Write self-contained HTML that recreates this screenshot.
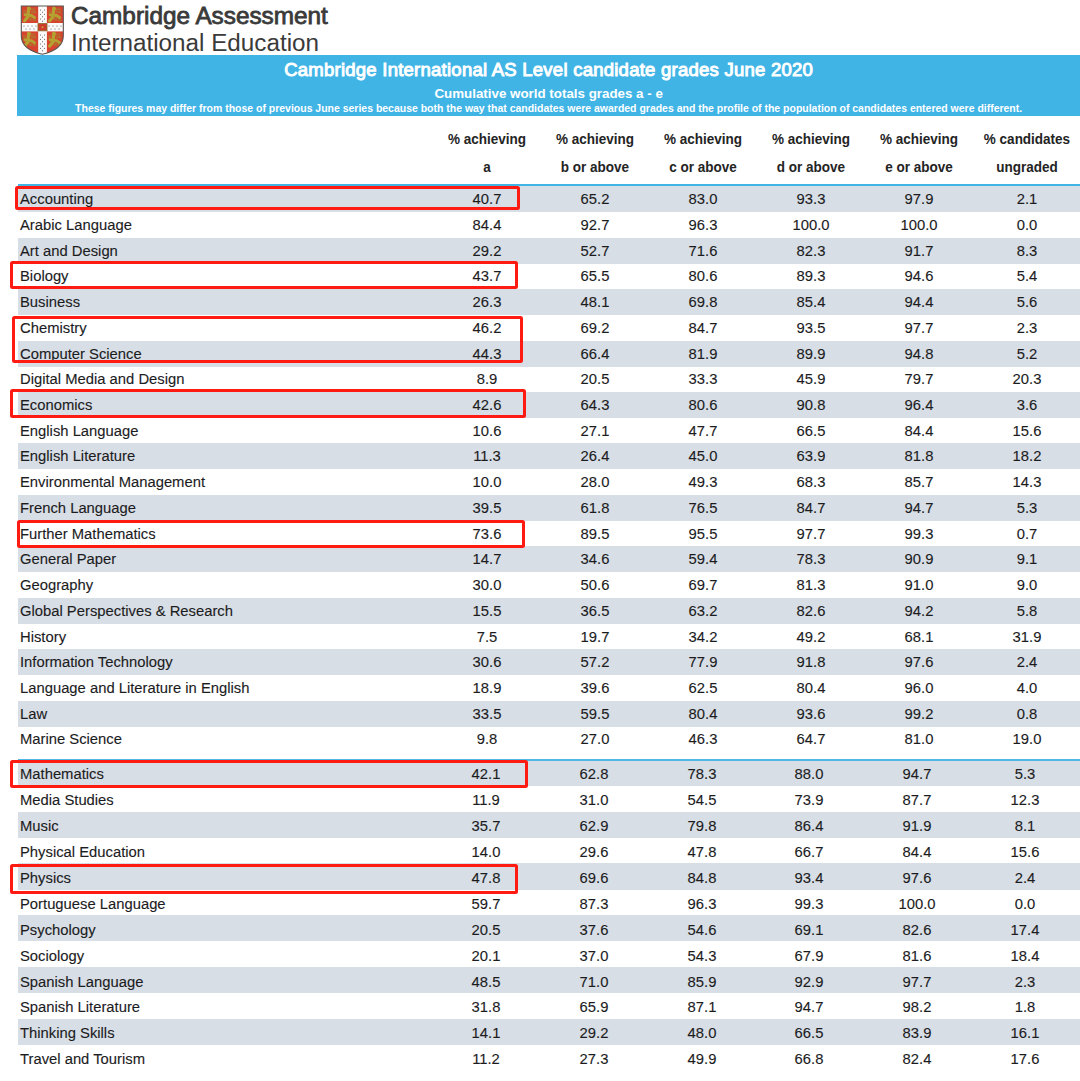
<!DOCTYPE html>
<html><head><meta charset="utf-8"><style>
html,body{margin:0;padding:0;background:#fff;}
body{width:1080px;height:1081px;position:relative;overflow:hidden;font-family:"Liberation Sans",sans-serif;}
.abs{position:absolute;}
.logo1{position:absolute;left:71px;top:4.5px;font-size:23.5px;-webkit-text-stroke:0.8px #3a3a3a;color:#3a3a3a;white-space:nowrap;line-height:1;transform-origin:0 0;transform:scaleX(1.035);}
.logo2{position:absolute;left:71px;top:31.5px;font-size:23px;color:#3a3a3a;white-space:nowrap;line-height:1;transform-origin:0 0;transform:scaleX(1.054);}
.bar{position:absolute;left:17.3px;top:54.5px;width:1062.7px;height:61.2px;background:#41b4e6;}
.t{position:absolute;left:17.3px;width:1062.7px;text-align:center;color:#fff;font-weight:bold;white-space:nowrap;line-height:1;}
.h{position:absolute;width:120px;text-align:center;font-weight:bold;font-size:14.6px;transform:scaleX(0.925);line-height:1;color:#242424;white-space:nowrap;}
.r{position:absolute;left:18px;width:1062px;}
.r span{position:absolute;top:5.1px;font-size:15.2px;line-height:1;color:#1c1c1e;white-space:nowrap;-webkit-text-stroke:0.12px #1c1c1e;}
.r .nm{left:2.0px;transform-origin:0 0;transform:scaleX(0.974);}
.r .n{width:100px;text-align:center;margin-left:-18px;transform:scaleX(0.974);}
.r div span{top:5.1px;}
.line{position:absolute;background:#41b4e6;}
.box{position:absolute;border:3px solid #ff1a12;border-radius:2.5px;box-sizing:border-box;}
</style></head><body>
<svg class="abs" style="left:0;top:0" width="80" height="60" viewBox="0 0 80 60"><defs><clipPath id="sc"><path d="M21.3 6 H63.3 V36 C63.3 46 54 51.5 42.3 54.3 C30.6 51.5 21.3 46 21.3 36 Z"/></clipPath></defs>
<path d="M21.3 6 H63.3 V36 C63.3 46 54 51.5 42.3 54.3 C30.6 51.5 21.3 46 21.3 36 Z" fill="#d8432f"/>
<g clip-path="url(#sc)">
<rect x="38.2" y="0" width="8.7" height="60" fill="#fafafa"/>
<rect x="0" y="23" width="80" height="8.4" fill="#fafafa"/>
<path d="M40.5 9 l0.6 1.6 l-1.2 0 z" fill="#555"/><path d="M40.5 13.5 l0.6 1.6 l-1.2 0 z" fill="#555"/><path d="M40.5 18 l0.6 1.6 l-1.2 0 z" fill="#555"/><path d="M40.5 34 l0.6 1.6 l-1.2 0 z" fill="#555"/><path d="M40.5 38.5 l0.6 1.6 l-1.2 0 z" fill="#555"/><path d="M40.5 43 l0.6 1.6 l-1.2 0 z" fill="#555"/><path d="M40.5 47.5 l0.6 1.6 l-1.2 0 z" fill="#555"/><path d="M44.5 9 l0.6 1.6 l-1.2 0 z" fill="#555"/><path d="M44.5 13.5 l0.6 1.6 l-1.2 0 z" fill="#555"/><path d="M44.5 18 l0.6 1.6 l-1.2 0 z" fill="#555"/><path d="M44.5 34 l0.6 1.6 l-1.2 0 z" fill="#555"/><path d="M44.5 38.5 l0.6 1.6 l-1.2 0 z" fill="#555"/><path d="M44.5 43 l0.6 1.6 l-1.2 0 z" fill="#555"/><path d="M44.5 47.5 l0.6 1.6 l-1.2 0 z" fill="#555"/><path d="M42.5 11.2 l0.6 1.6 l-1.2 0 z" fill="#555"/><path d="M42.5 15.7 l0.6 1.6 l-1.2 0 z" fill="#555"/><path d="M42.5 20.2 l0.6 1.6 l-1.2 0 z" fill="#555"/><path d="M42.5 36.2 l0.6 1.6 l-1.2 0 z" fill="#555"/><path d="M42.5 40.7 l0.6 1.6 l-1.2 0 z" fill="#555"/><path d="M42.5 45.2 l0.6 1.6 l-1.2 0 z" fill="#555"/><path d="M42.5 49.7 l0.6 1.6 l-1.2 0 z" fill="#555"/><path d="M24 25 l0.6 1.6 l-1.2 0 z" fill="#555"/><path d="M28 25 l0.6 1.6 l-1.2 0 z" fill="#555"/><path d="M32 25 l0.6 1.6 l-1.2 0 z" fill="#555"/><path d="M36 25 l0.6 1.6 l-1.2 0 z" fill="#555"/><path d="M49 25 l0.6 1.6 l-1.2 0 z" fill="#555"/><path d="M53 25 l0.6 1.6 l-1.2 0 z" fill="#555"/><path d="M57 25 l0.6 1.6 l-1.2 0 z" fill="#555"/><path d="M61 25 l0.6 1.6 l-1.2 0 z" fill="#555"/><path d="M26 28 l0.6 1.6 l-1.2 0 z" fill="#555"/><path d="M30 28 l0.6 1.6 l-1.2 0 z" fill="#555"/><path d="M34 28 l0.6 1.6 l-1.2 0 z" fill="#555"/><path d="M51 28 l0.6 1.6 l-1.2 0 z" fill="#555"/><path d="M55 28 l0.6 1.6 l-1.2 0 z" fill="#555"/><path d="M59 28 l0.6 1.6 l-1.2 0 z" fill="#555"/>
<rect x="38" y="23.6" width="9" height="7.2" fill="#cf3b2a" stroke="#8e6b2c" stroke-width="0.9"/>
<circle cx="42.5" cy="27.2" r="1" fill="#c9a640"/>
<g transform="translate(21.8,6.2)"><g fill="#b8692e" opacity="1"><rect x="8.5" y="2" width="5" height="2.2"/><rect x="8.8" y="4.6" width="5.5" height="2.6"/><rect x="7" y="11" width="3.4" height="3.6"/><rect x="11" y="11" width="3.4" height="3.8"/><rect x="1.5" y="3.6" width="2.4" height="4.5"/></g>
<g fill="none" stroke="#b3a132" stroke-linecap="round" stroke-linejoin="round"><path d="M6.9 2 L5.9 10.8 L3 14.3" stroke-width="3.3"/><path d="M3.2 8.6 L9.7 9.3 L12.7 11.3" stroke-width="2.8"/><path d="M4.2 13.5 L2.5 15" stroke-width="2.4"/></g><circle cx="7.2" cy="2.4" r="1.9" fill="#b3a132"/></g>
<g transform="translate(46.9,6.2)"><g fill="#b8692e" opacity="1"><rect x="8.5" y="2" width="5" height="2.2"/><rect x="8.8" y="4.6" width="5.5" height="2.6"/><rect x="7" y="11" width="3.4" height="3.6"/><rect x="11" y="11" width="3.4" height="3.8"/><rect x="1.5" y="3.6" width="2.4" height="4.5"/></g>
<g fill="none" stroke="#b3a132" stroke-linecap="round" stroke-linejoin="round"><path d="M6.9 2 L5.9 10.8 L3 14.3" stroke-width="3.3"/><path d="M3.2 8.6 L9.7 9.3 L12.7 11.3" stroke-width="2.8"/><path d="M4.2 13.5 L2.5 15" stroke-width="2.4"/></g><circle cx="7.2" cy="2.4" r="1.9" fill="#b3a132"/></g>
<g transform="translate(21.8,31.4)"><g fill="#b8692e" opacity="1"><rect x="8.5" y="2" width="5" height="2.2"/><rect x="8.8" y="4.6" width="5.5" height="2.6"/><rect x="7" y="11" width="3.4" height="3.6"/><rect x="11" y="11" width="3.4" height="3.8"/><rect x="1.5" y="3.6" width="2.4" height="4.5"/></g>
<g fill="none" stroke="#b3a132" stroke-linecap="round" stroke-linejoin="round"><path d="M6.9 2 L5.9 10.8 L3 14.3" stroke-width="3.3"/><path d="M3.2 8.6 L9.7 9.3 L12.7 11.3" stroke-width="2.8"/><path d="M4.2 13.5 L2.5 15" stroke-width="2.4"/></g><circle cx="7.2" cy="2.4" r="1.9" fill="#b3a132"/></g>
<g transform="translate(46.9,31.4)"><g fill="#b8692e" opacity="1"><rect x="8.5" y="2" width="5" height="2.2"/><rect x="8.8" y="4.6" width="5.5" height="2.6"/><rect x="7" y="11" width="3.4" height="3.6"/><rect x="11" y="11" width="3.4" height="3.8"/><rect x="1.5" y="3.6" width="2.4" height="4.5"/></g>
<g fill="none" stroke="#b3a132" stroke-linecap="round" stroke-linejoin="round"><path d="M6.9 2 L5.9 10.8 L3 14.3" stroke-width="3.3"/><path d="M3.2 8.6 L9.7 9.3 L12.7 11.3" stroke-width="2.8"/><path d="M4.2 13.5 L2.5 15" stroke-width="2.4"/></g><circle cx="7.2" cy="2.4" r="1.9" fill="#b3a132"/></g>
</g>
<path d="M21.3 6 H63.3 V36 C63.3 46 54 51.5 42.3 54.3 C30.6 51.5 21.3 46 21.3 36 Z" fill="none" stroke="#5a5550" stroke-width="1.1"/></svg>
<div class="logo1">Cambridge Assessment</div>
<div class="logo2">International Education</div>
<div class="bar"></div>
<div class="t" style="top:60.5px;font-size:18.5px;font-weight:normal;-webkit-text-stroke:0.95px #fff;letter-spacing:0.25px;transform-origin:549px 0;transform:scaleX(1.0)">Cambridge International AS Level candidate grades June 2020</div>
<div class="t" style="top:87.2px;font-size:13.35px">Cumulative world totals grades a - e</div>
<div class="t" style="top:104.2px;font-size:10.47px;transform-origin:549px 0;transform:scaleX(1.0)">These figures may differ from those of previous June series because both the way that candidates were awarded grades and the profile of the population of candidates entered were different.</div>
<span class="h" style="left:426.7px;top:131.5px">% achieving</span><span class="h" style="left:426.7px;top:159.8px">a</span><span class="h" style="left:534.7px;top:131.5px">% achieving</span><span class="h" style="left:534.7px;top:159.8px">b or above</span><span class="h" style="left:642.7px;top:131.5px">% achieving</span><span class="h" style="left:642.7px;top:159.8px">c or above</span><span class="h" style="left:750.7px;top:131.5px">% achieving</span><span class="h" style="left:750.7px;top:159.8px">d or above</span><span class="h" style="left:858.7px;top:131.5px">% achieving</span><span class="h" style="left:858.7px;top:159.8px">e or above</span><span class="h" style="left:966.7px;top:131.5px">% candidates</span><span class="h" style="left:966.7px;top:159.8px">ungraded</span>
<div class="line" style="left:18px;top:184.4px;width:1062px;height:2.9px"></div>
<div class="r" style="top:186.20px;height:26.02px;background:#d8dee5"><span class="nm">Accounting</span><span class="n" style="left:436.70px">40.7</span><span class="n" style="left:544.70px">65.2</span><span class="n" style="left:652.70px">83.0</span><span class="n" style="left:760.70px">93.3</span><span class="n" style="left:868.70px">97.9</span><span class="n" style="left:976.70px">2.1</span></div>
<div class="r" style="top:211.92px;height:26.02px;background:transparent"><span class="nm">Arabic Language</span><span class="n" style="left:436.70px">84.4</span><span class="n" style="left:544.70px">92.7</span><span class="n" style="left:652.70px">96.3</span><span class="n" style="left:760.70px">100.0</span><span class="n" style="left:868.70px">100.0</span><span class="n" style="left:976.70px">0.0</span></div>
<div class="r" style="top:237.64px;height:26.02px;background:#d8dee5"><span class="nm">Art and Design</span><span class="n" style="left:436.70px">29.2</span><span class="n" style="left:544.70px">52.7</span><span class="n" style="left:652.70px">71.6</span><span class="n" style="left:760.70px">82.3</span><span class="n" style="left:868.70px">91.7</span><span class="n" style="left:976.70px">8.3</span></div>
<div class="r" style="top:263.36px;height:26.02px;background:transparent"><span class="nm">Biology</span><span class="n" style="left:436.70px">43.7</span><span class="n" style="left:544.70px">65.5</span><span class="n" style="left:652.70px">80.6</span><span class="n" style="left:760.70px">89.3</span><span class="n" style="left:868.70px">94.6</span><span class="n" style="left:976.70px">5.4</span></div>
<div class="r" style="top:289.08px;height:26.02px;background:#d8dee5"><span class="nm">Business</span><span class="n" style="left:436.70px">26.3</span><span class="n" style="left:544.70px">48.1</span><span class="n" style="left:652.70px">69.8</span><span class="n" style="left:760.70px">85.4</span><span class="n" style="left:868.70px">94.4</span><span class="n" style="left:976.70px">5.6</span></div>
<div class="r" style="top:314.80px;height:26.02px;background:transparent"><span class="nm">Chemistry</span><span class="n" style="left:436.70px">46.2</span><span class="n" style="left:544.70px">69.2</span><span class="n" style="left:652.70px">84.7</span><span class="n" style="left:760.70px">93.5</span><span class="n" style="left:868.70px">97.7</span><span class="n" style="left:976.70px">2.3</span></div>
<div class="r" style="top:340.52px;height:26.02px;background:#d8dee5"><span class="nm">Computer Science</span><span class="n" style="left:436.70px">44.3</span><span class="n" style="left:544.70px">66.4</span><span class="n" style="left:652.70px">81.9</span><span class="n" style="left:760.70px">89.9</span><span class="n" style="left:868.70px">94.8</span><span class="n" style="left:976.70px">5.2</span></div>
<div class="r" style="top:366.24px;height:26.02px;background:transparent"><span class="nm">Digital Media and Design</span><span class="n" style="left:436.70px">8.9</span><span class="n" style="left:544.70px">20.5</span><span class="n" style="left:652.70px">33.3</span><span class="n" style="left:760.70px">45.9</span><span class="n" style="left:868.70px">79.7</span><span class="n" style="left:976.70px">20.3</span></div>
<div class="r" style="top:391.96px;height:26.02px;background:#d8dee5"><span class="nm">Economics</span><span class="n" style="left:436.70px">42.6</span><span class="n" style="left:544.70px">64.3</span><span class="n" style="left:652.70px">80.6</span><span class="n" style="left:760.70px">90.8</span><span class="n" style="left:868.70px">96.4</span><span class="n" style="left:976.70px">3.6</span></div>
<div class="r" style="top:417.68px;height:26.02px;background:transparent"><span class="nm">English Language</span><span class="n" style="left:436.70px">10.6</span><span class="n" style="left:544.70px">27.1</span><span class="n" style="left:652.70px">47.7</span><span class="n" style="left:760.70px">66.5</span><span class="n" style="left:868.70px">84.4</span><span class="n" style="left:976.70px">15.6</span></div>
<div class="r" style="top:443.40px;height:26.02px;background:#d8dee5"><span class="nm">English Literature</span><span class="n" style="left:436.70px">11.3</span><span class="n" style="left:544.70px">26.4</span><span class="n" style="left:652.70px">45.0</span><span class="n" style="left:760.70px">63.9</span><span class="n" style="left:868.70px">81.8</span><span class="n" style="left:976.70px">18.2</span></div>
<div class="r" style="top:469.12px;height:26.02px;background:transparent"><span class="nm">Environmental Management</span><span class="n" style="left:436.70px">10.0</span><span class="n" style="left:544.70px">28.0</span><span class="n" style="left:652.70px">49.3</span><span class="n" style="left:760.70px">68.3</span><span class="n" style="left:868.70px">85.7</span><span class="n" style="left:976.70px">14.3</span></div>
<div class="r" style="top:494.84px;height:26.02px;background:#d8dee5"><span class="nm">French Language</span><span class="n" style="left:436.70px">39.5</span><span class="n" style="left:544.70px">61.8</span><span class="n" style="left:652.70px">76.5</span><span class="n" style="left:760.70px">84.7</span><span class="n" style="left:868.70px">94.7</span><span class="n" style="left:976.70px">5.3</span></div>
<div class="r" style="top:520.56px;height:26.02px;background:transparent"><span class="nm">Further Mathematics</span><span class="n" style="left:436.70px">73.6</span><span class="n" style="left:544.70px">89.5</span><span class="n" style="left:652.70px">95.5</span><span class="n" style="left:760.70px">97.7</span><span class="n" style="left:868.70px">99.3</span><span class="n" style="left:976.70px">0.7</span></div>
<div class="r" style="top:546.28px;height:26.02px;background:#d8dee5"><span class="nm">General Paper</span><span class="n" style="left:436.70px">14.7</span><span class="n" style="left:544.70px">34.6</span><span class="n" style="left:652.70px">59.4</span><span class="n" style="left:760.70px">78.3</span><span class="n" style="left:868.70px">90.9</span><span class="n" style="left:976.70px">9.1</span></div>
<div class="r" style="top:572.00px;height:26.02px;background:transparent"><span class="nm">Geography</span><span class="n" style="left:436.70px">30.0</span><span class="n" style="left:544.70px">50.6</span><span class="n" style="left:652.70px">69.7</span><span class="n" style="left:760.70px">81.3</span><span class="n" style="left:868.70px">91.0</span><span class="n" style="left:976.70px">9.0</span></div>
<div class="r" style="top:597.72px;height:26.02px;background:#d8dee5"><span class="nm">Global Perspectives &amp; Research</span><span class="n" style="left:436.70px">15.5</span><span class="n" style="left:544.70px">36.5</span><span class="n" style="left:652.70px">63.2</span><span class="n" style="left:760.70px">82.6</span><span class="n" style="left:868.70px">94.2</span><span class="n" style="left:976.70px">5.8</span></div>
<div class="r" style="top:623.44px;height:26.02px;background:transparent"><span class="nm">History</span><span class="n" style="left:436.70px">7.5</span><span class="n" style="left:544.70px">19.7</span><span class="n" style="left:652.70px">34.2</span><span class="n" style="left:760.70px">49.2</span><span class="n" style="left:868.70px">68.1</span><span class="n" style="left:976.70px">31.9</span></div>
<div class="r" style="top:649.16px;height:26.02px;background:#d8dee5"><span class="nm">Information Technology</span><span class="n" style="left:436.70px">30.6</span><span class="n" style="left:544.70px">57.2</span><span class="n" style="left:652.70px">77.9</span><span class="n" style="left:760.70px">91.8</span><span class="n" style="left:868.70px">97.6</span><span class="n" style="left:976.70px">2.4</span></div>
<div class="r" style="top:674.88px;height:26.02px;background:transparent"><span class="nm">Language and Literature in English</span><span class="n" style="left:436.70px">18.9</span><span class="n" style="left:544.70px">39.6</span><span class="n" style="left:652.70px">62.5</span><span class="n" style="left:760.70px">80.4</span><span class="n" style="left:868.70px">96.0</span><span class="n" style="left:976.70px">4.0</span></div>
<div class="r" style="top:700.60px;height:26.02px;background:#d8dee5"><span class="nm">Law</span><span class="n" style="left:436.70px">33.5</span><span class="n" style="left:544.70px">59.5</span><span class="n" style="left:652.70px">80.4</span><span class="n" style="left:760.70px">93.6</span><span class="n" style="left:868.70px">99.2</span><span class="n" style="left:976.70px">0.8</span></div>
<div class="r" style="top:726.32px;height:26.02px;background:transparent"><span class="nm">Marine Science</span><span class="n" style="left:436.70px">9.8</span><span class="n" style="left:544.70px">27.0</span><span class="n" style="left:652.70px">46.3</span><span class="n" style="left:760.70px">64.7</span><span class="n" style="left:868.70px">81.0</span><span class="n" style="left:976.70px">19.0</span></div>
<div class="r" style="top:759.80px;height:26.20px;background:#d8dee5"><div style="position:absolute;left:0;top:1.5px"><span class="nm">Mathematics</span><span class="n" style="left:436.40px">42.1</span><span class="n" style="left:544.06px">62.8</span><span class="n" style="left:651.72px">78.3</span><span class="n" style="left:759.38px">88.0</span><span class="n" style="left:867.04px">94.7</span><span class="n" style="left:974.70px">5.3</span></div></div>
<div class="r" style="top:785.70px;height:26.20px;background:transparent"><div style="position:absolute;left:0;top:1.5px"><span class="nm">Media Studies</span><span class="n" style="left:436.40px">11.9</span><span class="n" style="left:544.06px">31.0</span><span class="n" style="left:651.72px">54.5</span><span class="n" style="left:759.38px">73.9</span><span class="n" style="left:867.04px">87.7</span><span class="n" style="left:974.70px">12.3</span></div></div>
<div class="r" style="top:811.60px;height:26.20px;background:#d8dee5"><div style="position:absolute;left:0;top:1.5px"><span class="nm">Music</span><span class="n" style="left:436.40px">35.7</span><span class="n" style="left:544.06px">62.9</span><span class="n" style="left:651.72px">79.8</span><span class="n" style="left:759.38px">86.4</span><span class="n" style="left:867.04px">91.9</span><span class="n" style="left:974.70px">8.1</span></div></div>
<div class="r" style="top:837.50px;height:26.20px;background:transparent"><div style="position:absolute;left:0;top:1.5px"><span class="nm">Physical Education</span><span class="n" style="left:436.40px">14.0</span><span class="n" style="left:544.06px">29.6</span><span class="n" style="left:651.72px">47.8</span><span class="n" style="left:759.38px">66.7</span><span class="n" style="left:867.04px">84.4</span><span class="n" style="left:974.70px">15.6</span></div></div>
<div class="r" style="top:863.40px;height:26.20px;background:#d8dee5"><div style="position:absolute;left:0;top:1.5px"><span class="nm">Physics</span><span class="n" style="left:436.40px">47.8</span><span class="n" style="left:544.06px">69.6</span><span class="n" style="left:651.72px">84.8</span><span class="n" style="left:759.38px">93.4</span><span class="n" style="left:867.04px">97.6</span><span class="n" style="left:974.70px">2.4</span></div></div>
<div class="r" style="top:889.30px;height:26.20px;background:transparent"><div style="position:absolute;left:0;top:1.5px"><span class="nm">Portuguese Language</span><span class="n" style="left:436.40px">59.7</span><span class="n" style="left:544.06px">87.3</span><span class="n" style="left:651.72px">96.3</span><span class="n" style="left:759.38px">99.3</span><span class="n" style="left:867.04px">100.0</span><span class="n" style="left:974.70px">0.0</span></div></div>
<div class="r" style="top:915.20px;height:26.20px;background:#d8dee5"><div style="position:absolute;left:0;top:1.5px"><span class="nm">Psychology</span><span class="n" style="left:436.40px">20.5</span><span class="n" style="left:544.06px">37.6</span><span class="n" style="left:651.72px">54.6</span><span class="n" style="left:759.38px">69.1</span><span class="n" style="left:867.04px">82.6</span><span class="n" style="left:974.70px">17.4</span></div></div>
<div class="r" style="top:941.10px;height:26.20px;background:transparent"><div style="position:absolute;left:0;top:1.5px"><span class="nm">Sociology</span><span class="n" style="left:436.40px">20.1</span><span class="n" style="left:544.06px">37.0</span><span class="n" style="left:651.72px">54.3</span><span class="n" style="left:759.38px">67.9</span><span class="n" style="left:867.04px">81.6</span><span class="n" style="left:974.70px">18.4</span></div></div>
<div class="r" style="top:967.00px;height:26.20px;background:#d8dee5"><div style="position:absolute;left:0;top:1.5px"><span class="nm">Spanish Language</span><span class="n" style="left:436.40px">48.5</span><span class="n" style="left:544.06px">71.0</span><span class="n" style="left:651.72px">85.9</span><span class="n" style="left:759.38px">92.9</span><span class="n" style="left:867.04px">97.7</span><span class="n" style="left:974.70px">2.3</span></div></div>
<div class="r" style="top:992.90px;height:26.20px;background:transparent"><div style="position:absolute;left:0;top:1.5px"><span class="nm">Spanish Literature</span><span class="n" style="left:436.40px">31.8</span><span class="n" style="left:544.06px">65.9</span><span class="n" style="left:651.72px">87.1</span><span class="n" style="left:759.38px">94.7</span><span class="n" style="left:867.04px">98.2</span><span class="n" style="left:974.70px">1.8</span></div></div>
<div class="r" style="top:1018.80px;height:26.20px;background:#d8dee5"><div style="position:absolute;left:0;top:1.5px"><span class="nm">Thinking Skills</span><span class="n" style="left:436.40px">14.1</span><span class="n" style="left:544.06px">29.2</span><span class="n" style="left:651.72px">48.0</span><span class="n" style="left:759.38px">66.5</span><span class="n" style="left:867.04px">83.9</span><span class="n" style="left:974.70px">16.1</span></div></div>
<div class="r" style="top:1044.70px;height:26.20px;background:transparent"><div style="position:absolute;left:0;top:1.5px"><span class="nm">Travel and Tourism</span><span class="n" style="left:436.40px">11.2</span><span class="n" style="left:544.06px">27.3</span><span class="n" style="left:651.72px">49.9</span><span class="n" style="left:759.38px">66.8</span><span class="n" style="left:867.04px">82.4</span><span class="n" style="left:974.70px">17.6</span></div></div>
<div class="line" style="left:18px;top:758.8px;width:1062px;height:2.3px;background:#4fb8e6"></div>
<div class="box" style="left:15px;top:186.3px;width:504.79999999999995px;height:23.899999999999977px"></div><div class="box" style="left:10px;top:261.4px;width:507.79999999999995px;height:27.600000000000023px"></div><div class="box" style="left:11.7px;top:316.1px;width:511.09999999999997px;height:47.19999999999999px"></div><div class="box" style="left:9.7px;top:388.6px;width:516.4px;height:29.19999999999999px"></div><div class="box" style="left:16.9px;top:520px;width:508.4px;height:27.799999999999955px"></div><div class="box" style="left:9.7px;top:759.7px;width:518.1999999999999px;height:28.299999999999955px"></div><div class="box" style="left:10px;top:864px;width:508.20000000000005px;height:29.700000000000045px"></div>
</body></html>
